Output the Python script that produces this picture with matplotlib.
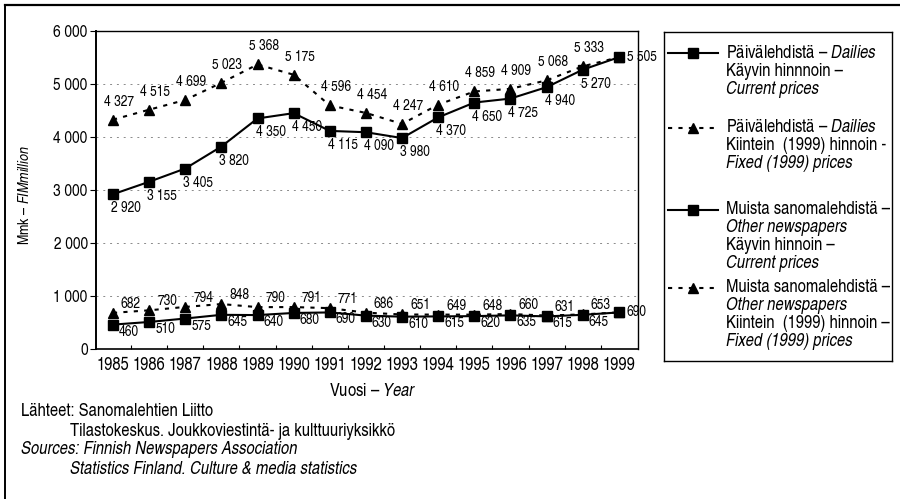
import matplotlib
matplotlib.use("Agg")
import matplotlib.pyplot as plt
from matplotlib.lines import Line2D
from matplotlib.ticker import FuncFormatter

plt.rcParams['font.family'] = ['TeX Gyre Heros Cn', 'DejaVu Sans']
plt.rcParams['mathtext.fontset'] = 'custom'
plt.rcParams['mathtext.rm'] = 'TeX Gyre Heros Cn'
plt.rcParams['mathtext.it'] = 'TeX Gyre Heros Cn:italic'

years = list(range(1985, 2000))
dailies_current = [2920, 3155, 3405, 3820, 4350, 4450, 4115, 4090, 3980,
                   4370, 4650, 4725, 4940, 5270, 5505]
dailies_fixed = [4327, 4515, 4699, 5023, 5368, 5175, 4596, 4454, 4247,
                 4610, 4859, 4909, 5068, 5333, 5505]
other_current = [460, 510, 575, 645, 640, 680, 690, 630, 610,
                 615, 620, 635, 615, 645, 690]
other_fixed = [682, 730, 794, 848, 790, 791, 771, 686, 651,
               649, 648, 660, 631, 653, 690]
y_ticks = [0, 1000, 2000, 3000, 4000, 5000, 6000]

W, H = 900, 499


def fx(x):
    return x / W


def fy(y):
    return 1 - y / H


def fmt(v):
    return f"{v:,}".replace(",", " ")


fig = plt.figure(figsize=(9, 4.99), dpi=100)
fig.patch.set_facecolor('white')

ax = fig.add_axes([fx(96), fy(349), fx(638 - 96), (349 - 31) / H])

dot = (0, (2, 3))
ax.plot(years, dailies_current, '-', color='black', lw=1.5,
        marker='s', ms=6.5, zorder=4)
ax.plot(years, dailies_fixed, color='black', lw=1.5, ls=dot,
        marker='^', ms=6.5, zorder=4)
ax.plot(years, other_current, '-', color='black', lw=1.5,
        marker='s', ms=6.5, zorder=4)
ax.plot(years, other_fixed, color='black', lw=1.5, ls=dot,
        marker='^', ms=6.5, zorder=4)

lab = dict(fontsize=10.5, ha='center', va='center',
           textcoords='offset pixels', zorder=2, annotation_clip=False)
for i, yr in enumerate(years[:-1]):
    ax.annotate(fmt(dailies_current[i]), (yr, dailies_current[i]),
                xytext=(13, -14), **lab)
    ax.annotate(fmt(dailies_fixed[i]), (yr, dailies_fixed[i]),
                xytext=(6, 18), **lab)
    ax.annotate(fmt(other_current[i]), (yr, other_current[i]),
                xytext=(16, -7), **lab)
    ax.annotate(fmt(other_fixed[i]), (yr, other_fixed[i]),
                xytext=(18, 9), **lab)
# viimeisen vuoden arvot pisteen oikealle puolelle
ax.annotate(fmt(dailies_current[-1]), (years[-1], dailies_current[-1]),
            xytext=(8, 0), **{**lab, 'ha': 'left'})
ax.annotate(fmt(other_current[-1]), (years[-1], other_current[-1]),
            xytext=(8, 0), **{**lab, 'ha': 'left'})

ax.set_xlim(1984.53, 1999.53)
ax.set_ylim(0, 6000)
ax.set_xticks(years)
ax.set_xticks([y + 0.5 for y in years[:-1]], minor=True)
ax.set_yticks(y_ticks)
ax.yaxis.set_major_formatter(FuncFormatter(lambda v, p: fmt(int(v))))
ax.tick_params(axis='y', labelsize=12, length=4, width=0.8, pad=2)
ax.tick_params(axis='x', which='major', labelsize=13, length=0, pad=6)
ax.tick_params(axis='x', which='minor', direction='in', length=3, width=0.8)

for v in y_ticks[1:-1]:
    ax.axhline(v, color='#8a8a8a', lw=0.7, ls=(0, (2, 5)), zorder=1)

for side in ('top', 'right'):
    ax.spines[side].set_linestyle((0, (1, 1)))
    ax.spines[side].set_linewidth(1.0)
ax.spines['left'].set_linewidth(1.4)
ax.spines['bottom'].set_linewidth(1.2)
for sp in ax.spines.values():
    sp.set_zorder(5)

ax.set_ylabel(r'Mmk – $\mathit{FIMmillion}$', fontsize=11)
ax.yaxis.set_label_coords(-0.118, 0.484)
ax.set_xlabel(r'Vuosi – $\mathit{Year}$', fontsize=13)
ax.xaxis.set_label_coords(0.51, -0.107)

# selitelaatikko
lax = fig.add_axes([fx(664), fy(361), fx(892 - 664), (361 - 32) / H])
lax.set_xticks([])
lax.set_yticks([])
for sp in lax.spines.values():
    sp.set_linewidth(1.0)
lax.set_xlim(664, 892)
lax.set_ylim(361, 32)

entries = [
    ('-', 's', 53, [r'Päivälehdistä – $\mathit{Dailies}$',
                    'Käyvin hinnnoin –',
                    ('Current prices', 'italic')]),
    (dot, '^', 128, [r'Päivälehdistä – $\mathit{Dailies}$',
                     'Kiintein  (1999) hinnoin -',
                     ('Fixed (1999) prices', 'italic')]),
    ('-', 's', 210, ['Muista sanomalehdistä –',
                     ('Other newspapers', 'italic'),
                     'Käyvin hinnoin –',
                     ('Current prices', 'italic')]),
    (dot, '^', 288, ['Muista sanomalehdistä –',
                     ('Other newspapers', 'italic'),
                     'Kiintein  (1999) hinnoin –',
                     ('Fixed (1999) prices', 'italic')]),
]
for ls, mk, y0, lines in entries:
    lax.plot([668, 718], [y0, y0], color='black', lw=1.5, ls=ls)
    lax.plot([693], [y0], color='black', marker=mk, ms=6.5)
    for k, line in enumerate(lines):
        style = 'normal'
        if isinstance(line, tuple):
            line, style = line
        lax.text(726, y0 + k * 18, line, fontsize=13, style=style,
                 ha='left', va='center')

# lähteet
src = dict(fontsize=13, ha='left', va='center')
fig.text(fx(21), fy(412), 'Lähteet: Sanomalehtien Liitto', **src)
fig.text(fx(70), fy(432), 'Tilastokeskus. Joukkoviestintä- ja kulttuuriyksikkö', **src)
fig.text(fx(21), fy(450), 'Sources: Finnish Newspapers Association',
         style='italic', **src)
fig.text(fx(70), fy(469), 'Statistics Finland. Culture & media statistics',
         style='italic', **src)

# kehys
fig.add_artist(Line2D([fx(5), fx(900)], [fy(5), fy(5)], color='black', lw=1.6))
fig.add_artist(Line2D([fx(5), fx(5)], [fy(5), fy(499)], color='black', lw=1.4))

fig.savefig('out.png', dpi=100)
